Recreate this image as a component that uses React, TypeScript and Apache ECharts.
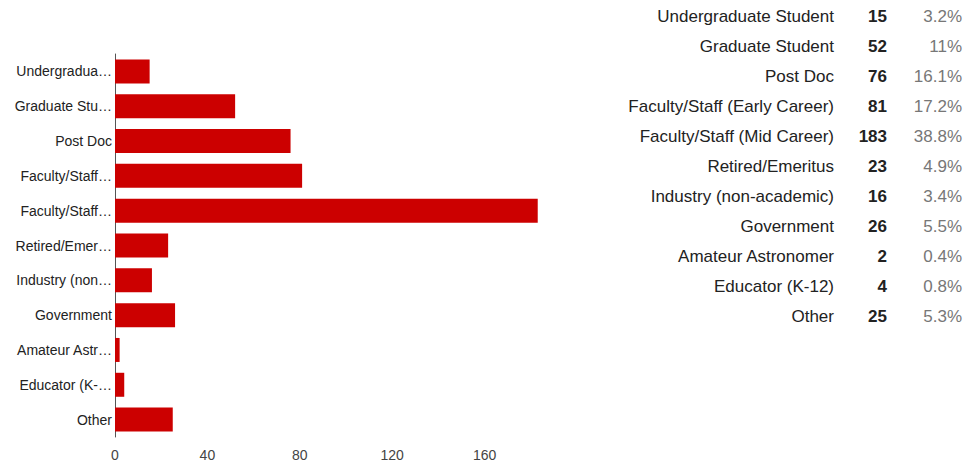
import React, { useEffect, useRef } from "react";
import * as echarts from "echarts";

const categories = [
  "Undergraduate Student",
  "Graduate Student",
  "Post Doc",
  "Faculty/Staff (Early Career)",
  "Faculty/Staff (Mid Career)",
  "Retired/Emeritus",
  "Industry (non-academic)",
  "Government",
  "Amateur Astronomer",
  "Educator (K-12)",
  "Other",
];
const counts = [15, 52, 76, 81, 183, 23, 16, 26, 2, 4, 25];
const percents = ["3.2%", "11%", "16.1%", "17.2%", "38.8%", "4.9%", "3.4%", "5.5%", "0.4%", "0.8%", "5.3%"];
const xTicks = [0, 40, 80, 120, 160];

const FONT = "Arial, 'Liberation Sans', sans-serif";

let measureCtx: CanvasRenderingContext2D | null = null;
function truncateLabel(text: string, maxWidth: number, font: string): string {
  if (!measureCtx) measureCtx = document.createElement("canvas").getContext("2d");
  const ctx = measureCtx!;
  ctx.font = font;
  if (ctx.measureText(text).width <= maxWidth) return text;
  const ell = "…";
  let s = text;
  while (s.length > 1 && ctx.measureText(s + ell).width > maxWidth) s = s.slice(0, -1);
  return s.replace(/\s+$/, "") + ell;
}

export default function App() {
  const ref = useRef<HTMLDivElement>(null);
  useEffect(() => {
    if (!ref.current) return;
    const chart = echarts.init(ref.current, null, { renderer: "svg" });
    const tableTexts: any[] = [];
    categories.forEach((c, i) => {
      const y = 16 + i * 30;
      tableTexts.push({
        type: "text", x: 834, y,
        style: { text: c, fill: "#222", font: `17px ${FONT}`, textAlign: "right", textVerticalAlign: "middle" },
      });
      tableTexts.push({
        type: "text", x: 887, y,
        style: { text: String(counts[i]), fill: "#222", font: `bold 17px ${FONT}`, textAlign: "right", textVerticalAlign: "middle" },
      });
      tableTexts.push({
        type: "text", x: 962, y,
        style: { text: percents[i], fill: "#777", font: `17px ${FONT}`, textAlign: "right", textVerticalAlign: "middle" },
      });
    });
    chart.setOption({
      animation: false,
      backgroundColor: "#ffffff",
      grid: { left: 115, right: 387, top: 54, bottom: 29, containLabel: false },
      xAxis: {
        type: "value",
        min: 0,
        max: 200,
        interval: 40,
        axisLine: { show: false },
        axisTick: { show: false },
        splitLine: { show: false },
        axisLabel: {
          margin: 11,
          color: "#444",
          fontSize: 14,
          fontFamily: FONT,
          formatter: (v: number) => (xTicks.includes(v) ? String(v) : ""),
        },
      },
      yAxis: {
        type: "category",
        inverse: true,
        data: categories,
        axisLine: { show: true, lineStyle: { color: "#555", width: 1 } },
        axisTick: { show: false },
        axisLabel: {
          margin: 3,
          color: "#222",
          fontSize: 14,
          fontFamily: FONT,
          formatter: (v: string) => truncateLabel(v, 98, `14px ${FONT}`),
        },
      },
      series: [
        {
          type: "bar",
          data: counts,
          barWidth: 24,
          itemStyle: { color: "#cc0000" },
        },
      ],
      graphic: tableTexts,
    });
    return () => chart.dispose();
  }, []);
  return <div ref={ref} style={{ width: 964, height: 466, position: "absolute", left: 0, top: 0 }} />;
}
